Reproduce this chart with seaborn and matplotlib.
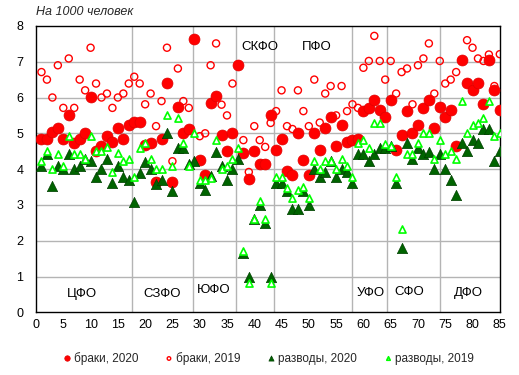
import matplotlib
matplotlib.use('Agg')
import matplotlib.pyplot as plt
import numpy as np
import pandas as pd
import seaborn as sns

# регионы 1..85, на 1000 человек
regions = list(range(1, 86))

marriages_2020 = [4.83, 4.83, 5.03, 5.15, 4.83, 5.52, 4.73, 4.83, 5.01, 6.02,
                  4.50, 4.64, 4.93, 4.75, 5.15, 4.83, 5.22, 5.32, 5.32, 4.66,
                  4.73, 3.64, 4.83, 6.41, 3.64, 5.73, 5.01, 5.12, 7.62, 4.25,
                  3.83, 5.84, 6.04, 4.94, 4.50, 5.01, 6.92, 4.44, 3.73, 4.50,
                  4.13, 4.13, 5.52, 4.53, 4.83, 3.95, 3.83, 5.01, 4.25, 3.83,
                  5.01, 4.53, 5.15, 5.46, 4.64, 5.22, 4.75, 4.81, 4.83, 5.62,
                  5.71, 5.93, 5.64, 5.46, 5.93, 4.53, 4.94, 5.62, 5.01, 5.22,
                  5.71, 5.93, 5.15, 5.74, 5.46, 5.64, 4.64, 7.04, 6.41, 6.22,
                  6.41, 5.83, 7.04, 6.22, 5.64]

marriages_2019 = [6.71, 6.50, 6.00, 6.90, 5.71, 7.09, 5.71, 6.50, 6.20, 7.39,
                  6.39, 6.00, 6.11, 5.71, 6.00, 6.11, 6.39, 6.58, 6.39, 5.81,
                  6.11, 5.20, 5.90, 7.39, 4.22, 6.81, 5.90, 5.71, 7.60, 4.92,
                  5.00, 6.90, 7.51, 5.80, 5.50, 6.39, 6.92, 4.81, 3.92, 5.20,
                  4.81, 4.62, 5.29, 5.62, 6.20, 5.20, 5.12, 6.20, 5.62, 5.20,
                  6.50, 5.30, 6.11, 6.32, 5.50, 6.32, 5.62, 5.81, 5.71, 6.83,
                  7.02, 7.72, 7.02, 6.50, 7.02, 6.11, 6.71, 6.81, 5.81, 6.90,
                  7.09, 7.51, 6.11, 7.02, 6.39, 6.50, 6.71, 7.04, 7.60, 7.39,
                  7.09, 7.02, 7.20, 6.32, 7.21]

divorces_2020 = [4.08, 4.41, 3.53, 4.10, 3.99, 4.41, 3.99, 4.10, 4.27, 4.22,
                 3.79, 3.99, 4.28, 3.60, 4.10, 3.79, 3.70, 3.08, 3.90, 4.20,
                 3.99, 3.58, 3.71, 5.00, 3.39, 4.60, 4.60, 4.15, 4.22, 3.60,
                 3.42, 3.80, 4.47, 4.10, 3.71, 3.99, 4.28, 1.66, 1.00, 2.60,
                 3.00, 2.50, 1.00, 3.62, 3.62, 3.39, 2.89, 2.89, 3.39, 3.01,
                 3.99, 3.79, 3.91, 4.22, 3.79, 3.99, 3.91, 3.60, 4.41, 4.41,
                 4.22, 4.41, 4.60, 4.60, 4.65, 3.60, 1.80, 4.72, 4.27, 4.60,
                 4.41, 4.47, 3.99, 4.41, 3.99, 3.71, 3.29, 4.72, 4.50, 4.81,
                 4.72, 5.12, 5.12, 4.22, 4.50]

divorces_2019 = [4.22, 4.50, 3.99, 4.41, 4.10, 4.92, 4.41, 4.41, 4.28, 4.92,
                 4.50, 4.50, 4.62, 3.91, 4.45, 4.22, 4.28, 3.79, 4.60, 4.72,
                 4.28, 3.99, 3.99, 5.50, 4.10, 5.43, 4.72, 4.10, 5.00, 3.71,
                 3.71, 3.76, 4.81, 4.00, 4.10, 4.28, 4.60, 1.70, 0.82, 2.62,
                 3.10, 2.60, 0.82, 3.79, 3.79, 3.48, 3.20, 3.41, 3.50, 3.20,
                 4.22, 3.99, 4.22, 4.22, 3.99, 4.28, 4.10, 3.79, 4.72, 4.81,
                 4.60, 5.30, 5.30, 4.69, 4.64, 3.79, 2.32, 4.41, 4.41, 4.72,
                 5.00, 5.00, 4.28, 4.81, 4.41, 4.50, 4.28, 5.90, 5.00, 5.22,
                 5.30, 5.43, 5.90, 4.92, 5.00]

districts = ['ЦФО', 'СЗФО', 'ЮФО', 'СКФО', 'ПФО', 'УФО', 'СФО', 'ДФО']
district_x = [8.4, 23.1, 32.6, 41.1, 51.4, 61.3, 68.4, 79.3]
district_y = [0.5, 0.5, 0.62, 7.4, 7.4, 0.54, 0.57, 0.54]
borders = [17.5, 28.7, 36.7, 43.6, 58.0, 64.3, 74.1]

df = pd.DataFrame({'region': regions,
                   'm2020': marriages_2020,
                   'm2019': marriages_2019,
                   'd2020': divorces_2020,
                   'd2019': divorces_2019})

sns.set_style('white')
plt.rcParams['font.family'] = ['Liberation Sans', 'DejaVu Sans']

fig = plt.figure(figsize=(5.19, 3.75), dpi=100)
ax = fig.add_axes([0.0694, 0.167, 0.8936, 0.764])

for b in borders:
    ax.axvline(b, color='#b4b4b4', lw=1, zorder=0)
for yv in range(1, 8):
    ax.axhline(yv, color='#b4b4b4', lw=1, zorder=0)

sns.scatterplot(data=df, x='region', y='m2020', ax=ax, marker='o', s=62,
                color='#ff0000', edgecolor='#e00000', linewidth=0.5,
                label='браки, 2020', zorder=3)
sns.scatterplot(data=df, x='region', y='m2019', ax=ax, marker='o', s=26,
                facecolor='none', edgecolor='#ff0000', linewidth=1.0,
                label='браки, 2019', zorder=4)
sns.scatterplot(data=df, x='region', y='d2020', ax=ax, marker='^', s=55,
                color='#006400', edgecolor='#004000', linewidth=0.5,
                label='разводы, 2020', zorder=5)
sns.scatterplot(data=df, x='region', y='d2019', ax=ax, marker='^', s=26,
                facecolor='white', edgecolor='#00ff00', linewidth=1.2,
                label='разводы, 2019', zorder=6)

ax.set_xlim(0, 85)
ax.set_ylim(0, 8)
ax.set_xticks(range(0, 86, 5))
ax.set_yticks(range(0, 9))
ax.tick_params(length=0, labelsize=9, pad=5, colors='black')
ax.tick_params(axis='y', pad=9)
ax.set_xlabel('')
ax.set_ylabel('')
for sp in ax.spines.values():
    sp.set_color('black')
    sp.set_linewidth(1.0)

for name, xv, yv in zip(districts, district_x, district_y):
    ax.text(xv, yv, name, ha='center', va='center', fontsize=9.5, color='black')

fig.text(0.0694, 0.968, 'На 1000 человек', fontsize=9, style='italic',
         ha='left', va='center')

ax.legend(loc='upper center', bbox_to_anchor=(0.5, -0.1), ncol=4, frameon=False,
          fontsize=8.5, markerscale=0.5, handletextpad=0.2, columnspacing=2.2,
          handlelength=0.8)

plt.savefig('out.png', dpi=100)
